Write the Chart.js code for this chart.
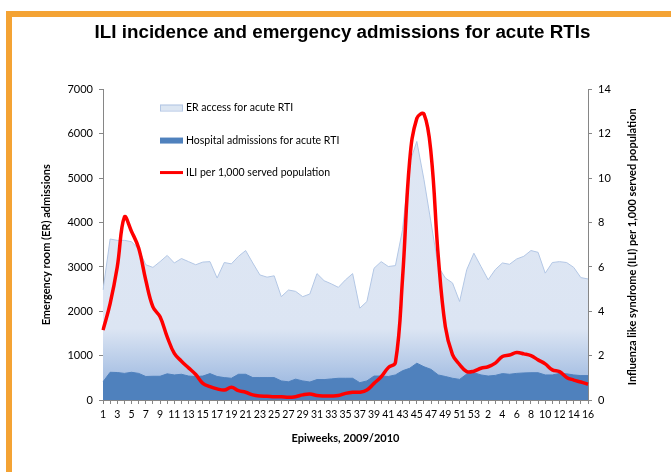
<!DOCTYPE html>
<html>
<head>
<meta charset="utf-8">
<script src="https://cdn.jsdelivr.net/npm/chart.js@4.4.1/dist/chart.umd.min.js"></script>
<style>
  html, body { margin: 0; padding: 0; background: #fff; }
  #wrap { position: relative; width: 671px; height: 472px; overflow: hidden; }
  #frame { position: absolute; left: 6px; top: 11px; right: -10px; bottom: -10px;
           border-left: 6px solid #f4a334; border-top: 6px solid #f4a334; }
  canvas { position: absolute; left: 0; top: 0; }
</style>
</head>
<body>
<div id="wrap">
  <div id="frame"></div>
  <canvas id="chart" width="671" height="472"></canvas>
</div>
<script>
// epiweeks 2009 (1-53) then 2010 (1-16)
const weeks = ['1','2','3','4','5','6','7','8','9','10','11','12','13','14','15','16','17','18','19','20',
  '21','22','23','24','25','26','27','28','29','30','31','32','33','34','35','36','37','38','39','40',
  '41','42','43','44','45','46','47','48','49','50','51','52','53',
  '1','2','3','4','5','6','7','8','9','10','11','12','13','14','15','16'];

const erAccess = [2480, 3630, 3600, 3600, 3570, 3400, 3050, 2990, 3120, 3260,
  3090, 3190, 3120, 3050, 3110, 3120, 2750, 3100, 3070, 3240,
  3370, 3090, 2820, 2770, 2800, 2330, 2480, 2450, 2330, 2390,
  2850, 2690, 2620, 2540, 2710, 2850, 2070, 2220, 2970, 3120,
  3010, 3030, 3840, 5350, 5830, 4970, 3990, 3010, 2750, 2640,
  2220, 2940, 3310, 3010, 2710, 2940, 3090, 3060, 3180, 3240,
  3370, 3330, 2860, 3100, 3120, 3100, 2990, 2760, 2730];

const hospAdm = [410, 625, 620, 600, 625, 600, 530, 535, 535, 590,
  565, 580, 540, 530, 540, 595, 530, 505, 490, 580,
  580, 505, 505, 505, 505, 430, 410, 470, 430, 405,
  460, 460, 475, 490, 490, 490, 390, 430, 540, 540,
  530, 565, 660, 715, 830, 750, 690, 565, 530, 490,
  465, 585, 615, 565, 540, 555, 595, 580, 600, 610,
  615, 615, 565, 565, 600, 590, 565, 550, 550];

const iliRate = [3.15, 4.35, 6.0, 8.25, 7.6, 6.85, 5.4, 4.2, 3.75, 2.85,
  2.1, 1.75, 1.45, 1.15, 0.75, 0.6, 0.5, 0.45, 0.57, 0.42,
  0.35, 0.23, 0.18, 0.17, 0.15, 0.15, 0.12, 0.15, 0.23, 0.27,
  0.2, 0.18, 0.18, 0.2, 0.3, 0.35, 0.35, 0.45, 0.75, 1.05,
  1.46, 1.69, 5.5, 10.8, 12.7, 12.9, 11.1, 6.5, 3.3, 2.05,
  1.6, 1.28, 1.3, 1.43, 1.5, 1.66, 1.96, 2.03, 2.14, 2.08,
  2.0, 1.81, 1.63, 1.36, 1.28, 1.02, 0.9, 0.81, 0.71];

const leftTitle = 'Emergency room (ER) admissions';
const rightTitle = 'Influenza like syndrome (ILI) per 1,000 served population';
const axisGrey = '#868686';

Chart.defaults.font.family = 'Lato, "Open Sans", sans-serif';
Chart.defaults.color = '#000';

// light area gets darker near the bottom, like the Excel gradient fill
function erFill(context) {
  const area = context.chart.chartArea;
  if (!area) return '#dde6f3';
  const g = context.chart.ctx.createLinearGradient(0, area.top, 0, area.bottom);
  g.addColorStop(0, '#dfe7f4');
  g.addColorStop(0.77, '#dce5f3');
  g.addColorStop(1, '#8fafdc');
  return g;
}

// right axis title (reads bottom-up) and the in-plot legend
const extras = {
  id: 'extras',
  afterDraw(chart) {
    const ctx = chart.ctx, a = chart.chartArea;
    ctx.save();
    ctx.font = 'bold 11px Lato';
    ctx.fillStyle = '#000';
    ctx.textAlign = 'center';
    ctx.textBaseline = 'middle';
    ctx.translate(632, (a.top + a.bottom) / 2 + 2);
    ctx.rotate(-Math.PI / 2);
    ctx.fillText(rightTitle, 0, 0);
    ctx.restore();

    const ds = chart.data.datasets;
    const x0 = a.left + 57, rows = [a.top + 18, a.top + 51, a.top + 83];
    ctx.save();
    ctx.font = '10.5px Lato';
    ctx.textBaseline = 'middle';
    ctx.textAlign = 'left';
    ctx.fillStyle = '#dce6f2';
    ctx.strokeStyle = '#b3c7e5';
    ctx.lineWidth = 1;
    ctx.fillRect(x0, rows[0] - 3, 23, 6);
    ctx.strokeRect(x0 + 0.5, rows[0] - 2.5, 22, 6);
    ctx.fillStyle = '#4f81bd';
    ctx.fillRect(x0, rows[1] - 3, 23, 6);
    ctx.strokeStyle = '#ff0000';
    ctx.lineWidth = 3;
    ctx.beginPath();
    ctx.moveTo(x0, rows[2]);
    ctx.lineTo(x0 + 23, rows[2]);
    ctx.stroke();
    ctx.fillStyle = '#000';
    ctx.fillText(ds[0].label, x0 + 26, rows[0]);
    ctx.fillText(ds[1].label, x0 + 26, rows[1]);
    ctx.fillText(ds[2].label, x0 + 26, rows[2]);
    ctx.restore();
  }
};

new Chart(document.getElementById('chart'), {
  type: 'line',
  data: {
    labels: weeks,
    datasets: [
      {
        label: 'ER access for acute RTI',
        data: erAccess,
        yAxisID: 'y',
        fill: 'origin',
        backgroundColor: erFill,
        borderColor: '#b3c7e5',
        borderWidth: 1,
        pointRadius: 0,
        tension: 0,
        order: 3
      },
      {
        label: 'Hospital admissions for acute RTI',
        data: hospAdm,
        yAxisID: 'y',
        fill: 'origin',
        backgroundColor: '#4f81bd',
        borderColor: '#4f81bd',
        borderWidth: 1,
        pointRadius: 0,
        tension: 0,
        order: 2
      },
      {
        label: 'ILI per 1,000 served population',
        data: iliRate,
        yAxisID: 'y1',
        fill: false,
        borderColor: '#ff0000',
        borderWidth: 3.5,
        pointRadius: 0,
        tension: 0.4,
        order: 1
      }
    ]
  },
  options: {
    responsive: false,
    animation: false,
    layout: { padding: { left: 14, top: 0, right: 0, bottom: 0 } },
    plugins: {
      legend: { display: false },
      tooltip: { enabled: false },
      title: {
        display: true,
        text: 'ILI incidence and emergency admissions for acute RTIs',
        font: { family: '"Liberation Sans", Arial, sans-serif', size: 18.8, weight: 'bold', lineHeight: 1.2 },
        color: '#000',
        padding: { top: 22, bottom: 45 }
      }
    },
    scales: {
      x: {
        type: 'category',
        offset: false,
        afterFit(s) { s.height = 72; },
        grid: { display: true, drawOnChartArea: false, drawTicks: true, tickLength: 4, color: axisGrey },
        border: { display: true, color: axisGrey },
        ticks: {
          autoSkip: false,
          maxRotation: 0,
          padding: 4,
          font: { size: 10.5 },
          callback(v, i) { return i % 2 === 0 ? this.getLabelForValue(v) : ''; }
        },
        title: {
          display: true,
          text: 'Epiweeks, 2009/2010',
          font: { size: 11, weight: 'bold' },
          padding: { top: 0, bottom: 27 }
        }
      },
      y: {
        position: 'left',
        min: 0,
        max: 7000,
        afterFit(s) { s.width = 89; },
        grid: { display: true, drawOnChartArea: false, tickLength: 4, color: axisGrey },
        border: { display: true, color: axisGrey },
        ticks: { stepSize: 1000, padding: 6, font: { size: 11 }, callback: v => String(v) },
        title: {
          display: true,
          text: leftTitle,
          font: { size: 11, weight: 'bold' },
          padding: { top: 26, bottom: 0 }
        }
      },
      y1: {
        position: 'right',
        min: 0,
        max: 14,
        afterFit(s) { s.width = 83; },
        grid: { display: true, drawOnChartArea: false, tickLength: 4, color: axisGrey },
        border: { display: true, color: axisGrey },
        ticks: { stepSize: 2, padding: 6, font: { size: 11 }, callback: v => String(v) }
      }
    }
  },
  plugins: [extras]
});
</script>
</body>
</html>
